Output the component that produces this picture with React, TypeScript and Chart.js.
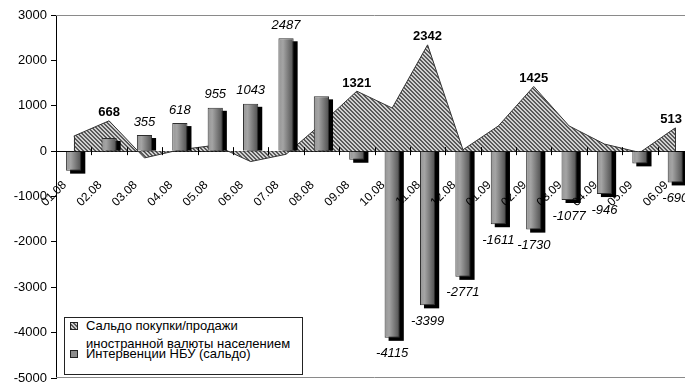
import React, { useEffect, useRef } from "react";
import { Chart, registerables } from "chart.js";

Chart.register(...registerables);

const FONT = "'Liberation Sans', Arial, sans-serif";

const categories = [
  "01.08", "02.08", "03.08", "04.08", "05.08", "06.08", "07.08", "08.08", "09.08",
  "10.08", "11.08", "12.08", "01.09", "02.09", "03.09", "04.09", "05.09", "06.09",
];

// Сальдо покупки/продажи иностранной валюты населением (area)
const populationBalance = [330, 668, -150, 30, 130, -230, -70, 600, 1321, 950, 2342, 30, 555, 1425, 555, 155, -30, 513];
const balanceLabelShown = [false, true, false, false, false, false, false, false, true, false, true, false, false, true, false, false, false, true];

// Интервенции НБУ (сальдо) (bars)
const nbuInterventions = [-430, 290, 355, 618, 955, 1043, 2487, 1207, -190, -4115, -3399, -2771, -1611, -1730, -1077, -946, -270, -690];
const interventionLabelShown = [false, false, true, true, true, true, true, false, false, true, true, true, true, true, true, true, false, true];

const yMin = -5000;
const yMax = 3000;
const yStep = 1000;

const legendLine1 = ["Сальдо покупки/продажи", "иностранной валюты населением"];
const legendLine2 = "Интервенции НБУ (сальдо)";

const CANVAS_W = 700;
const VIEW_W = 685;
const BAR_PCT = 0.43;

function makeHatch(ctx: CanvasRenderingContext2D): CanvasPattern | string {
  const c = document.createElement("canvas");
  c.width = 4;
  c.height = 4;
  const g = c.getContext("2d");
  if (!g) return "#999";
  g.fillStyle = "#d0d0d0";
  g.fillRect(0, 0, 4, 4);
  g.fillStyle = "#5a5a5a";
  for (let i = 0; i < 4; i++) {
    g.fillRect(i, i, 1, 1);
    g.fillRect((i + 1) % 4, i, 1, 1);
  }
  return ctx.createPattern(c, "repeat") || "#999";
}

const decorPlugin = {
  id: "decor",
  beforeDatasetDraw(chart: any, args: any) {
    if (args.index !== 1) return;
    const ctx: CanvasRenderingContext2D = chart.ctx;
    ctx.save();
    ctx.fillStyle = "#000";
    args.meta.data.forEach((bar: any) => {
      const w = bar.width;
      if (bar.y < bar.base) {
        // positive bar: shadow to the right, stopping at the axis
        ctx.fillRect(bar.x - w / 2 + 4, bar.y + 3, w, bar.base - bar.y - 3);
      } else {
        ctx.fillRect(bar.x - w / 2 + 4, bar.base, w, bar.y - bar.base + 3);
      }
    });
    ctx.restore();
  },
  afterDraw(chart: any) {
    const ctx: CanvasRenderingContext2D = chart.ctx;
    const { left, right, top, bottom } = chart.chartArea;
    const xs = chart.scales.x;
    const ys = chart.scales.y;
    const y0 = ys.getPixelForValue(0);
    const n = categories.length;
    const cw = (right - left) / n;

    ctx.save();
    // plot border lines (top & bottom)
    ctx.strokeStyle = "#8a8a8a";
    ctx.lineWidth = 1;
    ctx.beginPath();
    ctx.moveTo(left, Math.round(top) + 0.5);
    ctx.lineTo(right, Math.round(top) + 0.5);
    ctx.moveTo(left, Math.round(bottom) - 0.5);
    ctx.lineTo(right, Math.round(bottom) - 0.5);
    ctx.stroke();

    // area end edges
    const pts = chart.getDatasetMeta(0).data;
    if (pts.length) {
      ctx.strokeStyle = "#333";
      ctx.beginPath();
      const f = pts[0];
      const l = pts[pts.length - 1];
      ctx.moveTo(Math.round(f.x) + 0.5, f.y);
      ctx.lineTo(Math.round(f.x) + 0.5, y0);
      ctx.moveTo(Math.round(l.x) + 0.5, l.y);
      ctx.lineTo(Math.round(l.x) + 0.5, y0);
      ctx.stroke();
    }

    // category tick marks crossing the zero axis
    ctx.strokeStyle = "#000";
    ctx.beginPath();
    for (let i = 0; i <= n; i++) {
      const x = Math.round(left + i * cw) + 0.5;
      ctx.moveTo(x, y0 - 4);
      ctx.lineTo(x, y0 + 4);
    }
    ctx.stroke();

    // category labels, rotated
    ctx.fillStyle = "#000";
    ctx.font = `12px ${FONT}`;
    ctx.textAlign = "right";
    ctx.textBaseline = "middle";
    for (let i = 0; i < n; i++) {
      const x = xs.getPixelForValue(i);
      ctx.save();
      ctx.translate(x - 9, y0 + 32);
      ctx.rotate(-Math.PI / 4);
      ctx.fillText(categories[i], 0, 0);
      ctx.restore();
    }

    // bar value labels (italic)
    ctx.textAlign = "center";
    ctx.font = `italic 13px ${FONT}`;
    chart.getDatasetMeta(1).data.forEach((bar: any, i: number) => {
      if (!interventionLabelShown[i]) return;
      const v = nbuInterventions[i];
      const y = v >= 0 ? bar.y - 13 : bar.y + 16;
      ctx.fillText(String(v), bar.x, y);
    });

    // area value labels (bold), kept inside the visible chart
    ctx.font = `bold 13px ${FONT}`;
    pts.forEach((p: any, i: number) => {
      if (!balanceLabelShown[i]) return;
      const txt = String(populationBalance[i]);
      const hw = ctx.measureText(txt).width / 2;
      const x = Math.min(p.x, VIEW_W - 3 - hw);
      ctx.fillText(txt, x, p.y - 8);
    });
    ctx.restore();
  },
};

export default function App() {
  const ref = useRef<HTMLCanvasElement>(null);

  useEffect(() => {
    const canvas = ref.current;
    if (!canvas) return;
    const c2d = canvas.getContext("2d") as CanvasRenderingContext2D;
    const hatch = makeHatch(c2d);

    const barGradient = (ctx: any) => {
      const chart = ctx.chart;
      const xs = chart.scales && chart.scales.x;
      const area = chart.chartArea;
      if (!xs || !area || ctx.dataIndex === undefined) return "#888";
      const cx = xs.getPixelForValue(ctx.dataIndex);
      const cw = (area.right - area.left) / categories.length;
      const w = cw * BAR_PCT;
      const g = chart.ctx.createLinearGradient(cx - w / 2, 0, cx + w / 2, 0);
      g.addColorStop(0, "#969696");
      g.addColorStop(0.3, "#a4a4a4");
      g.addColorStop(1, "#4e4e4e");
      return g;
    };

    const chart = new Chart(canvas, {
      type: "bar",
      data: {
        labels: categories,
        datasets: [
          {
            type: "line",
            label: legendLine1.join(" "),
            data: populationBalance,
            fill: "origin",
            backgroundColor: hatch as any,
            borderColor: "#333",
            borderWidth: 1,
            pointRadius: 0,
            tension: 0,
            order: 1,
          } as any,
          {
            type: "bar",
            label: legendLine2,
            data: nbuInterventions,
            backgroundColor: barGradient,
            borderColor: "#2e2e2e",
            borderWidth: 1,
            barPercentage: BAR_PCT,
            categoryPercentage: 1,
            order: 0,
          } as any,
        ],
      },
      options: {
        responsive: false,
        animation: false,
        events: [],
        layout: { padding: { left: 0, top: 15, right: 7, bottom: 4 } },
        plugins: {
          legend: { display: false },
          tooltip: { enabled: false },
        },
        scales: {
          x: {
            type: "category",
            offset: true,
            position: { y: 0 } as any,
            z: 1,
            grid: { display: false },
            border: { display: true, color: "#000", width: 1 },
            ticks: { display: false },
          },
          y: {
            min: yMin,
            max: yMax,
            afterFit: (scale: any) => {
              scale.width = 56;
              scale.paddingTop = 0;
              scale.paddingBottom = 0;
            },
            ticks: {
              stepSize: yStep,
              color: "#000",
              padding: 4,
              font: { family: FONT, size: 13 },
              callback: (v: any) => String(v),
            },
            grid: {
              display: true,
              drawOnChartArea: false,
              drawTicks: true,
              tickLength: 5,
              color: "#000",
            },
            border: { display: true, color: "#000", width: 1 },
          },
        },
      },
      plugins: [decorPlugin],
    });

    return () => chart.destroy();
  }, []);

  const markerBase: React.CSSProperties = {
    position: "absolute",
    left: 5,
    width: 6,
    height: 6,
    border: "1px solid #222",
  };

  return (
    <div
      style={{
        position: "fixed",
        left: 0,
        top: 0,
        width: VIEW_W,
        height: 382,
        overflow: "hidden",
        background: "#fff",
      }}
    >
      <canvas ref={ref} width={CANVAS_W} height={382} style={{ display: "block", width: CANVAS_W, height: 382 }} />
      <div
        style={{
          position: "absolute",
          left: 64,
          top: 317,
          width: 239,
          height: 58,
          boxSizing: "border-box",
          border: "1px solid #222",
          background: "#fff",
          fontFamily: FONT,
          fontSize: 13,
          color: "#000",
        }}
      >
        <span
          style={{
            ...markerBase,
            top: 4,
            background: "repeating-linear-gradient(45deg, #5a5a5a 0 1.4px, #d0d0d0 1.4px 2.8px)",
          }}
        />
        <div style={{ position: "absolute", left: 21, top: -1, lineHeight: "18px", whiteSpace: "nowrap" }}>
          {legendLine1[0]}
          <br />
          {legendLine1[1]}
        </div>
        <span style={{ ...markerBase, top: 32, background: "#8c8c8c" }} />
        <div style={{ position: "absolute", left: 21, top: 27, lineHeight: "18px", whiteSpace: "nowrap" }}>
          {legendLine2}
        </div>
      </div>
    </div>
  );
}
